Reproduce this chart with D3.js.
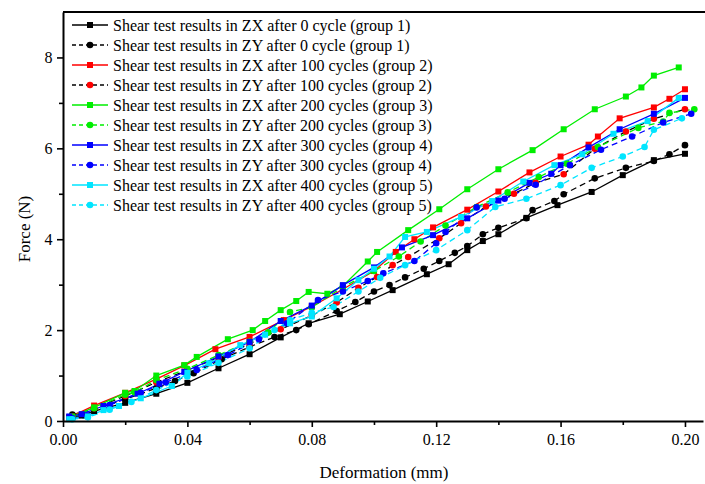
<!DOCTYPE html>
<html>
<head>
<meta charset="utf-8">
<script src="https://cdn.jsdelivr.net/npm/d3@7"></script>
<style>
  html, body { margin: 0; padding: 0; background: #fff; }
  svg { display: block; font-family: "Liberation Serif", "Times New Roman", serif; }
</style>
</head>
<body>
<svg id="chart" width="705" height="484"></svg>
<script>
// Deformation (mm) / force (N) pairs for each shear test
const zx0 = [[0.002,0.08],[0.006,0.12],[0.010,0.22],[0.020,0.40],[0.030,0.60],[0.040,0.84],[0.050,1.16],[0.060,1.47],[0.070,1.84],[0.079,2.15],[0.089,2.35],[0.098,2.63],[0.106,2.88],[0.117,3.23],[0.124,3.45],[0.130,3.76],[0.135,3.96],[0.140,4.11],[0.149,4.47],[0.159,4.75],[0.170,5.04],[0.180,5.41],[0.190,5.74],[0.200,5.88]];
const zy0 = [[0.003,0.14],[0.010,0.26],[0.020,0.48],[0.030,0.72],[0.036,0.88],[0.042,1.05],[0.051,1.36],[0.060,1.63],[0.068,1.85],[0.075,2.00],[0.079,2.13],[0.088,2.42],[0.094,2.62],[0.100,2.85],[0.105,2.99],[0.110,3.16],[0.116,3.35],[0.121,3.52],[0.126,3.70],[0.130,3.85],[0.135,4.11],[0.140,4.25],[0.149,4.46],[0.151,4.64],[0.158,4.84],[0.161,4.99],[0.171,5.34],[0.181,5.57],[0.190,5.72],[0.195,5.87],[0.200,6.07]];
const zx100 = [[0.002,0.08],[0.010,0.34],[0.020,0.62],[0.030,0.92],[0.039,1.22],[0.049,1.58],[0.060,1.85],[0.071,2.22],[0.080,2.52],[0.090,2.90],[0.100,3.30],[0.107,3.72],[0.113,4.00],[0.119,4.26],[0.130,4.65],[0.140,5.05],[0.150,5.47],[0.160,5.82],[0.169,6.08],[0.172,6.26],[0.179,6.66],[0.190,6.90],[0.195,7.09],[0.200,7.30]];
const zy100 = [[0.003,0.10],[0.010,0.28],[0.020,0.55],[0.030,0.85],[0.040,1.12],[0.050,1.40],[0.060,1.70],[0.070,2.02],[0.080,2.32],[0.088,2.61],[0.095,2.93],[0.101,3.17],[0.106,3.43],[0.111,3.61],[0.121,4.02],[0.128,4.35],[0.136,4.72],[0.145,5.00],[0.152,5.24],[0.161,5.43],[0.171,5.99],[0.181,6.37],[0.190,6.65],[0.200,6.86]];
const zx200 = [[0.003,0.10],[0.010,0.30],[0.020,0.62],[0.023,0.66],[0.030,1.00],[0.039,1.23],[0.043,1.41],[0.053,1.80],[0.061,2.00],[0.065,2.20],[0.070,2.44],[0.075,2.64],[0.079,2.84],[0.085,2.80],[0.090,2.97],[0.098,3.51],[0.101,3.72],[0.111,4.20],[0.121,4.66],[0.130,5.10],[0.140,5.54],[0.151,5.96],[0.161,6.42],[0.171,6.86],[0.181,7.14],[0.186,7.34],[0.190,7.60],[0.198,7.78]];
const zy200 = [[0.003,0.08],[0.010,0.28],[0.020,0.58],[0.023,0.63],[0.030,0.90],[0.040,1.15],[0.050,1.45],[0.060,1.75],[0.066,1.95],[0.073,2.40],[0.080,2.50],[0.090,2.95],[0.100,3.30],[0.108,3.62],[0.115,3.95],[0.123,4.30],[0.133,4.71],[0.143,5.03],[0.153,5.37],[0.162,5.66],[0.172,6.03],[0.185,6.45],[0.193,6.59],[0.195,6.78],[0.203,6.86]];
const zx300 = [[0.002,0.10],[0.006,0.15],[0.013,0.33],[0.024,0.60],[0.031,0.82],[0.039,1.08],[0.050,1.42],[0.060,1.74],[0.070,2.20],[0.080,2.54],[0.090,2.99],[0.100,3.38],[0.109,3.82],[0.119,4.09],[0.130,4.46],[0.140,4.85],[0.150,5.24],[0.157,5.44],[0.160,5.63],[0.169,6.02],[0.179,6.42],[0.190,6.76],[0.200,7.11]];
const zy300 = [[0.003,0.06],[0.008,0.12],[0.015,0.35],[0.025,0.62],[0.033,0.85],[0.043,1.12],[0.053,1.45],[0.063,1.80],[0.072,2.15],[0.082,2.66],[0.090,2.85],[0.098,3.08],[0.103,3.25],[0.113,3.52],[0.120,3.91],[0.123,4.16],[0.133,4.70],[0.142,4.89],[0.152,5.20],[0.163,5.63],[0.173,5.97],[0.183,6.26],[0.193,6.57],[0.202,6.76]];
const zx400 = [[0.002,0.04],[0.008,0.10],[0.013,0.24],[0.018,0.33],[0.025,0.50],[0.035,0.77],[0.040,1.06],[0.047,1.27],[0.057,1.67],[0.065,1.90],[0.073,2.15],[0.080,2.30],[0.088,2.70],[0.095,3.10],[0.100,3.35],[0.105,3.62],[0.110,4.05],[0.117,4.16],[0.128,4.49],[0.138,4.84],[0.148,5.27],[0.158,5.63],[0.167,5.87],[0.177,6.32],[0.188,6.60],[0.198,7.11]];
const zy400 = [[0.003,0.04],[0.008,0.08],[0.015,0.25],[0.022,0.42],[0.030,0.68],[0.040,0.98],[0.050,1.28],[0.060,1.60],[0.068,2.00],[0.073,2.22],[0.080,2.38],[0.087,2.51],[0.095,2.85],[0.102,3.15],[0.110,3.43],[0.120,3.76],[0.130,4.20],[0.139,4.71],[0.149,4.89],[0.160,5.19],[0.170,5.57],[0.180,5.82],[0.187,6.03],[0.190,6.41],[0.199,6.66]];

const seriesNames = [
  "Shear test results in ZX after 0 cycle (group 1)",
  "Shear test results in ZY after 0 cycle (group 1)",
  "Shear test results in ZX after 100 cycles (group 2)",
  "Shear test results in ZY after 100 cycles (group 2)",
  "Shear test results in ZX after 200 cycles (group 3)",
  "Shear test results in ZY after 200 cycles (group 3)",
  "Shear test results in ZX after 300 cycles (group 4)",
  "Shear test results in ZY after 300 cycles (group 4)",
  "Shear test results in ZX after 400 cycles (group 5)",
  "Shear test results in ZY after 400 cycles (group 5)"
];
const seriesData = [zx0, zy0, zx100, zy100, zx200, zy200, zx300, zy300, zx400, zy400];
const markerColors = ["#000000","#000000","#ff0000","#ff0000","#00ee00","#00ee00","#0000ff","#0000ff","#00e5ff","#00e5ff"];
const lineColors   = ["#000000","#000000","#ff0000","#000000","#00ee00","#00ee00","#0000ff","#0000ff","#00e5ff","#00e5ff"];
const markerShapes = ["square","circle","square","circle","square","circle","square","circle","square","circle"];
const dashed       = [false,true,false,true,false,true,false,true,false,true];

const xTicks = [0, 0.04, 0.08, 0.12, 0.16, 0.20];
const yTicks = [0, 2, 4, 6, 8];

const svg = d3.select("#chart");
const x = d3.scaleLinear().domain([0, 0.2058]).range([63, 703]);
const y = d3.scaleLinear().domain([0, 9]).range([421, 12]);

// Curves (drawn first so the axes sit on top)
const line = d3.line().x(d => x(d[0])).y(d => y(d[1]));
const plot = svg.append("g");
seriesData.forEach((data, i) => {
  plot.append("path")
    .datum(data)
    .attr("d", line)
    .attr("fill", "none")
    .attr("stroke", lineColors[i])
    .attr("stroke-width", 1.3)
    .attr("stroke-dasharray", dashed[i] ? "6,4" : null);
});
seriesData.forEach((data, i) => {
  const g = plot.append("g").attr("fill", markerColors[i]);
  if (markerShapes[i] === "square") {
    g.selectAll("rect").data(data).join("rect")
      .attr("x", d => x(d[0]) - 3).attr("y", d => y(d[1]) - 3)
      .attr("width", 6).attr("height", 6);
  } else {
    g.selectAll("circle").data(data).join("circle")
      .attr("cx", d => x(d[0])).attr("cy", d => y(d[1])).attr("r", 3.3);
  }
});

// Axes
const xAxis = svg.append("g").attr("transform", "translate(0,421)")
  .call(d3.axisBottom(x).tickValues(xTicks).tickFormat(d3.format(".2f")).tickSize(6).tickSizeOuter(0));
svg.append("g").attr("transform", "translate(0,421)")
  .call(d3.axisBottom(x).tickValues(d3.range(0.02, 0.21, 0.04)).tickFormat("").tickSize(4).tickSizeOuter(0))
  .select(".domain").remove();
const yAxis = svg.append("g").attr("transform", "translate(63,0)")
  .call(d3.axisLeft(y).tickValues(yTicks).tickSize(6).tickSizeOuter(0));
svg.append("g").attr("transform", "translate(63,0)")
  .call(d3.axisLeft(y).tickValues([1, 3, 5, 7]).tickFormat("").tickSize(4).tickSizeOuter(0))
  .select(".domain").remove();

svg.selectAll(".domain").attr("stroke", "#000").attr("stroke-width", 2);
svg.selectAll(".tick line").attr("stroke", "#000").attr("stroke-width", 1.6);
svg.selectAll(".tick text").attr("font-family", "Liberation Serif, Times New Roman, serif")
  .attr("font-size", 16).attr("fill", "#000");
xAxis.selectAll(".tick text").attr("dy", "0.95em");
yAxis.selectAll(".tick text").attr("dx", "-0.1em");

// Top frame line
svg.append("line").attr("x1", 63).attr("x2", 705).attr("y1", 12).attr("y2", 12)
  .attr("stroke", "#000").attr("stroke-width", 2);

// Axis titles
svg.append("text").attr("x", 384).attr("y", 478).attr("text-anchor", "middle")
  .attr("font-size", 17).text("Deformation (mm)");
svg.append("text").attr("transform", "translate(30,229) rotate(-90)")
  .attr("text-anchor", "middle").attr("font-size", 17).text("Force (N)");

// Legend
const legend = svg.append("g");
seriesNames.forEach((name, i) => {
  const cy = 25 + i * 20;
  const row = legend.append("g");
  row.append("line").attr("x1", 72).attr("x2", 108).attr("y1", cy).attr("y2", cy)
    .attr("stroke", lineColors[i]).attr("stroke-width", 1.3)
    .attr("stroke-dasharray", dashed[i] ? "4,3" : null);
  if (markerShapes[i] === "square") {
    row.append("rect").attr("x", 87).attr("y", cy - 3).attr("width", 6).attr("height", 6)
      .attr("fill", markerColors[i]);
  } else {
    row.append("circle").attr("cx", 90).attr("cy", cy).attr("r", 3.3).attr("fill", markerColors[i]);
  }
  row.append("text").attr("x", 113).attr("y", cy + 5.5).attr("font-size", 16).text(name);
});
</script>
</body>
</html>
